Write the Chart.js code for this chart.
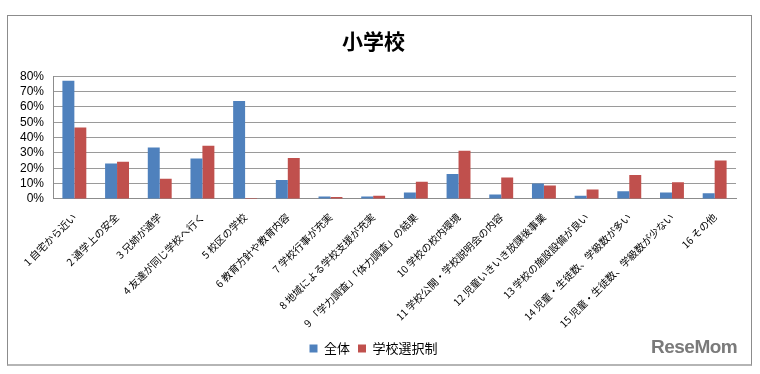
<!DOCTYPE html>
<html>
<head>
<meta charset="utf-8">
<script src="https://cdn.jsdelivr.net/npm/chart.js@4/dist/chart.umd.min.js"></script>
<style>
  html, body { margin: 0; padding: 0; background: #fff; }
  #wrap { position: relative; width: 760px; height: 374px; }
  #frame { position: absolute; left: 7px; top: 15px; width: 743px; height: 348px;
           border: 1px solid #8c8c8c; border-bottom: 2px solid #b5b5b5; }
  #chart { position: absolute; left: 0; top: 0; }
  #logo { position: absolute; left: 651px; top: 336px; font-family: "Liberation Sans", Arial, sans-serif;
          font-weight: bold; font-size: 19px; color: #7a7a7a; letter-spacing: -0.5px; }
</style>
</head>
<body>
<div id="wrap">
  <div id="frame"></div>
  <canvas id="chart" width="760" height="374"></canvas>
  <div id="logo">ReseMom</div>
</div>
<script>
const categories = [
  '1 自宅から近い',
  '2 通学上の安全',
  '3 兄姉が通学',
  '4 友達が同じ学校へ行く',
  '5 校区の学校',
  '6 教育方針や教育内容',
  '7 学校行事が充実',
  '8 地域による学校支援が充実',
  '9 「学力調査」「体力調査」の結果',
  '10 学校の校内環境',
  '11 学校公開・学校説明会の内容',
  '12 児童いきいき放課後事業',
  '13 学校の施設設備が良い',
  '14 児童・生徒数、学級数が多い',
  '15 児童・生徒数、学級数が少ない',
  '16 その他'
];
const allValues = [77.0, 23.1, 33.5, 26.4, 63.8, 12.3, 1.5, 1.6, 4.1, 16.2, 2.8, 10.1, 2.1, 4.9, 4.1, 3.6];
const choiceValues = [46.5, 24.2, 13.2, 34.6, 0.5, 26.6, 1.2, 2.1, 11.2, 31.4, 14.0, 8.8, 6.2, 15.6, 10.8, 25.1];
const seriesNames = ['全体', '学校選択制'];
const yTicks = [0, 10, 20, 30, 40, 50, 60, 70, 80];

const jp = '"Noto Sans CJK JP", "Noto Sans", sans-serif';

new Chart(document.getElementById('chart').getContext('2d'), {
  type: 'bar',
  data: {
    labels: categories,
    datasets: [
      { label: seriesNames[0], data: allValues, backgroundColor: '#4f81bd',
        barPercentage: 1, categoryPercentage: 0.56 },
      { label: seriesNames[1], data: choiceValues, backgroundColor: '#c0504d',
        barPercentage: 1, categoryPercentage: 0.56 }
    ]
  },
  options: {
    responsive: false,
    animation: false,
    layout: { padding: { left: 11, right: 24, top: 28, bottom: 9 } },
    plugins: {
      title: {
        display: true,
        text: '小学校',
        color: '#000',
        font: { family: jp, size: 21, weight: 'bold' },
        padding: { top: 0, bottom: 23 }
      },
      legend: {
        position: 'bottom',
        labels: {
          boxWidth: 8, boxHeight: 8, padding: 8,
          color: '#000',
          font: { family: jp, size: 13 }
        }
      },
      tooltip: { enabled: false }
    },
    scales: {
      x: {
        grid: { display: false },
        border: { color: '#8c8c8c' },
        ticks: {
          color: '#000', minRotation: 45, maxRotation: 45, padding: 4,
          font: { family: jp, size: 10.2 }
        }
      },
      y: {
        min: 0, max: 80,
        afterBuildTicks: axis => { axis.ticks = yTicks.map(v => ({ value: v })); },
        grid: { color: '#9a9a9a', drawTicks: false },
        border: { color: '#8c8c8c' },
        ticks: {
          color: '#000', padding: 9, autoSkip: false,
          font: { family: '"Liberation Sans", Arial, sans-serif', size: 12 },
          callback: v => v + '%'
        }
      }
    }
  }
});
</script>
</body>
</html>
